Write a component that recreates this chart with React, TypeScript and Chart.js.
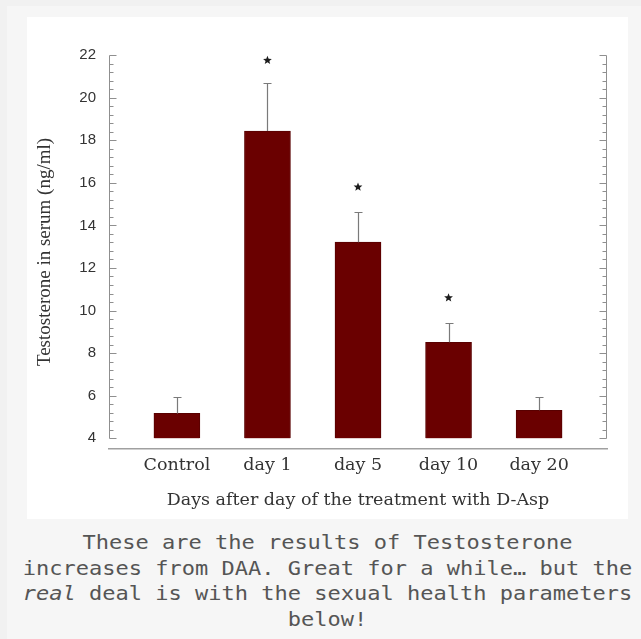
import React, { useEffect, useRef } from 'react';
import { Chart, registerables } from 'chart.js';

Chart.register(...registerables);

// ---- data ----
const CATEGORIES = ['Control', 'day 1', 'day 5', 'day 10', 'day 20'];
const MEANS = [5.17, 18.43, 13.21, 8.51, 5.32];
const SEM = [0.76, 2.25, 1.41, 0.89, 0.61];
const STAR_VALUES: (number | null)[] = [null, 21.75, 15.8, 10.6, null];

const Y_LABEL = 'Testosterone in serum (ng/ml)';
const X_LABEL = 'Days after day of the treatment with D-Asp';
const Y_AXIS_BOTTOM = 4;
const Y_AXIS_TOP = 22;
const Y_VIEW_MIN = 3.5;
const Y_MAJOR_STEP = 2;
const Y_MINOR_STEP = 0.4;
const X_VIEW_MIN = -0.75;
const X_VIEW_MAX = 4.75;

const CAPTION_LINES = [
  'These are the results of Testosterone',
  'increases from DAA. Great for a while… but the',
  '__real__ deal is with the sexual health parameters',
  'below!',
];

function drawStar(ctx: CanvasRenderingContext2D, cx: number, cy: number, ro: number, ri: number) {
  ctx.beginPath();
  for (let k = 0; k < 10; k++) {
    const r = k % 2 === 0 ? ro : ri;
    const a = -Math.PI / 2 + (k * Math.PI) / 5;
    const px = cx + r * Math.cos(a);
    const py = cy + r * Math.sin(a);
    if (k === 0) ctx.moveTo(px, py);
    else ctx.lineTo(px, py);
  }
  ctx.closePath();
  ctx.fill();
}

const decorPlugin = {
  id: 'decor',
  afterDatasetsDraw(chart: any) {
    const { ctx, chartArea, scales } = chart;
    const y = scales.y;
    ctx.save();
    // framed y axes with major/minor ticks pointing inward
    ctx.strokeStyle = '#8f8f8f';
    ctx.lineWidth = 1;
    const top = Math.round(y.getPixelForValue(Y_AXIS_TOP)) + 0.5;
    const bottom = Math.round(y.getPixelForValue(Y_AXIS_BOTTOM)) + 0.5;
    const sides = [
      { x: Math.round(chartArea.left) + 0.5, dir: 1 },
      { x: Math.round(chartArea.right) - 0.5, dir: -1 },
    ];
    const n = Math.round((Y_AXIS_TOP - Y_AXIS_BOTTOM) / Y_MINOR_STEP);
    const perMajor = Math.round(Y_MAJOR_STEP / Y_MINOR_STEP);
    ctx.beginPath();
    for (const s of sides) {
      ctx.moveTo(s.x, top);
      ctx.lineTo(s.x, bottom);
      for (let k = 0; k <= n; k++) {
        const v = Y_AXIS_BOTTOM + k * Y_MINOR_STEP;
        const py = Math.round(y.getPixelForValue(v)) + 0.5;
        const len = k % perMajor === 0 ? 7 : 4;
        ctx.moveTo(s.x, py);
        ctx.lineTo(s.x + s.dir * len, py);
      }
    }
    ctx.stroke();

    // error bars
    const meta = chart.getDatasetMeta(0);
    ctx.strokeStyle = '#7a7a7a';
    ctx.lineWidth = 1.2;
    ctx.beginPath();
    meta.data.forEach((bar: any, i: number) => {
      const cx = Math.round(bar.x) + 0.5;
      const y0 = y.getPixelForValue(MEANS[i]);
      const y1 = Math.round(y.getPixelForValue(MEANS[i] + SEM[i])) + 0.5;
      ctx.moveTo(cx, y0);
      ctx.lineTo(cx, y1);
      ctx.moveTo(cx - 4, y1);
      ctx.lineTo(cx + 4, y1);
    });
    ctx.stroke();

    // significance stars
    ctx.fillStyle = '#1c1c1c';
    meta.data.forEach((bar: any, i: number) => {
      const v = STAR_VALUES[i];
      if (v == null) return;
      drawStar(ctx, bar.x, y.getPixelForValue(v), 4.6, 2);
    });
    ctx.restore();
  },
};

function TestosteroneChart() {
  const ref = useRef<HTMLCanvasElement | null>(null);
  useEffect(() => {
    if (!ref.current) return;
    const chart = new Chart(ref.current, {
      type: 'bar',
      data: {
        datasets: [
          {
            data: MEANS.map((v, i) => ({ x: i, y: v })),
            backgroundColor: '#6a0000',
            borderColor: '#580000',
            borderWidth: 1,
            barThickness: 46,
            base: Y_AXIS_BOTTOM,
          } as any,
        ],
      },
      options: {
        responsive: false,
        animation: false,
        events: [],
        layout: { padding: { top: 38, right: 21, left: 0, bottom: 0 } },
        plugins: { legend: { display: false }, tooltip: { enabled: false } },
        scales: {
          x: {
            type: 'linear',
            offset: false,
            min: X_VIEW_MIN,
            max: X_VIEW_MAX,
            afterFit: (s: any) => {
              s.height = 70;
            },
            grid: { display: false, drawTicks: false },
            border: { display: true, color: '#a0a0a0', width: 1.5 },
            ticks: {
              stepSize: 1,
              includeBounds: false,
              autoSkip: false,
              maxRotation: 0,
              padding: 6,
              color: '#333',
              font: { family: 'DejaVu Serif', size: 17.5 },
              callback: (v: any) => CATEGORIES[v as number] ?? '',
            },
            title: {
              display: true,
              text: X_LABEL,
              color: '#333',
              font: { family: 'DejaVu Serif', size: 17.5 },
              padding: { top: 0, bottom: 8 },
            },
          },
          y: {
            type: 'linear',
            min: Y_VIEW_MIN,
            max: Y_AXIS_TOP,
            afterFit: (s: any) => {
              s.width = 82;
            },
            grid: { display: false, drawTicks: false },
            border: { display: false },
            ticks: {
              stepSize: Y_MAJOR_STEP,
              includeBounds: false,
              padding: 13,
              color: '#333',
              font: { family: 'Liberation Sans', size: 15 },
            },
            title: {
              display: true,
              text: Y_LABEL,
              color: '#333',
              font: { family: 'Liberation Serif', size: 19 },
              padding: { top: 7, bottom: 0 },
            },
          },
        },
      } as any,
      plugins: [decorPlugin],
    });
    return () => chart.destroy();
  }, []);
  return <canvas ref={ref} width={601} height={502} style={{ display: 'block' }} />;
}

function CaptionLine({ text }: { text: string }) {
  const parts = text.split('__');
  return (
    <div>
      {parts.map((p, i) => (i % 2 === 1 ? <i key={i}>{p}</i> : <span key={i}>{p}</span>))}
    </div>
  );
}

export default function App() {
  return (
    <div style={{ position: 'fixed', inset: 0, background: '#f1f1f1', overflow: 'hidden' }}>
      <div style={{ position: 'absolute', left: 7, top: 6, right: 0, bottom: 0, background: '#f6f6f6' }} />
      <div style={{ position: 'absolute', left: 27, top: 17, width: 601, height: 502, background: '#ffffff' }}>
        <TestosteroneChart />
      </div>
      <div
        style={{
          position: 'absolute',
          left: 15,
          width: 625,
          top: 530,
          textAlign: 'center',
          fontFamily: '"DejaVu Sans Mono", monospace',
          fontSize: 20,
          lineHeight: '25.7px',
          color: '#555',
          whiteSpace: 'nowrap',
          transform: 'scaleX(1.1)',
          transformOrigin: 'center top',
        }}
      >
        {CAPTION_LINES.map((l, i) => (
          <CaptionLine key={i} text={l} />
        ))}
      </div>
    </div>
  );
}
